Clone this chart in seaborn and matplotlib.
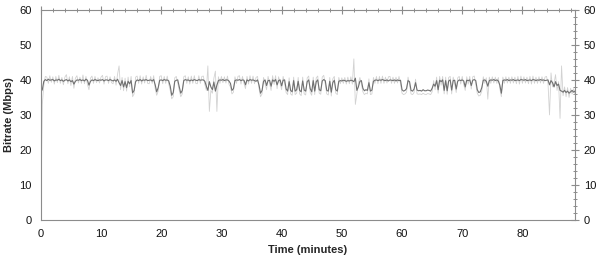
import numpy as np
import pandas as pd
import matplotlib
matplotlib.use("Agg")
import matplotlib.pyplot as plt
import seaborn as sns
from matplotlib.ticker import MultipleLocator

# Sample step of 0.25 minute, 4 per minute
step_minutes = 0.25

smoothed_mbps = [
    36.5, 37.2, 39.6, 40.1,  39.8, 40.2, 39.9, 40.0,  40.1, 39.7, 40.0, 39.9,  40.2, 39.8, 40.0, 39.6,
    39.9, 40.1, 39.7, 40.0,  39.5, 39.8, 38.8, 39.6,  40.0, 39.9, 40.1, 39.8,  40.0, 39.7, 40.2, 39.9,
    38.5, 39.6, 40.0, 39.8,  40.1, 39.9, 39.8, 40.0,  39.9, 40.1, 39.7, 40.0,  40.0, 39.8, 40.1, 39.9,
    39.7, 40.0, 39.6, 40.2,  39.2, 38.4, 39.8, 38.0,  39.5, 37.8, 39.6, 38.9,  39.8, 36.3, 37.0, 39.5,
    40.0, 39.8, 40.1, 39.7,  40.0, 39.9, 40.1, 39.8,  39.9, 40.0, 39.7, 40.1,  38.6, 36.6, 37.8, 39.9,
    40.0, 39.8, 40.1, 39.9,  40.0, 39.7, 38.2, 35.6,  36.4, 39.6, 39.9, 40.0,  38.0, 36.2, 37.0, 39.8,
    40.1, 39.9, 40.0, 39.7,  40.0, 39.8, 40.1, 39.9,  39.8, 40.1, 39.9, 40.0,  40.0, 39.6, 38.2, 37.0,
    39.5, 38.0, 37.2, 39.4,  36.8, 38.5, 39.8, 40.0,  39.9, 40.1, 39.8, 40.0,  40.0, 39.7, 39.0, 37.0,
    37.5, 39.8, 40.0, 39.9,  40.1, 39.8, 40.0, 39.9,  38.6, 40.0, 39.7, 40.1,  39.9, 40.0, 39.8, 39.6,
    40.0, 38.5, 36.2, 37.0,  39.6, 40.0, 38.4, 39.8,  39.9, 38.2, 40.0, 39.6,  40.1, 38.6, 39.8, 40.0,
    38.3, 39.9, 40.0, 37.4,  36.8, 39.5, 37.0, 36.6,  39.8, 36.8, 37.2, 39.6,  37.0, 36.6, 39.7, 37.1,
    36.8, 39.5, 40.0, 37.5,  36.6, 39.8, 36.8, 39.5,  40.0, 37.2, 36.9, 39.7,  40.1, 39.8, 37.0, 36.8,
    39.6, 36.5, 39.2, 39.9,  37.2, 36.8, 39.6, 39.8,  39.7, 39.9, 39.8, 39.6,  39.8, 39.7, 39.9, 39.8,
    39.5, 40.5, 37.0, 38.0,  39.6, 39.8, 37.6, 36.9,  37.2, 37.0, 39.2, 36.8,  37.1, 39.6, 39.9, 40.0,
    39.8, 40.0, 39.9, 40.1,  39.9, 39.8, 40.0, 39.7,  40.0, 39.9, 39.8, 40.0,  39.7, 40.0, 39.8, 39.9,
    37.2, 36.8, 37.0, 37.5,  39.8, 39.5, 37.0, 36.8,  37.4, 39.2, 37.1, 36.9,  37.0, 36.8, 37.2, 36.9,
    36.9, 37.1, 37.0, 36.8,  37.6, 38.8, 38.2, 39.8,  37.2, 39.9, 39.5, 40.0,  37.0, 39.8, 36.9, 39.7,
    40.0, 37.1, 39.8, 39.9,  37.4, 39.6, 40.0, 39.8,  40.0, 39.7, 38.0, 39.9,  39.8, 40.0, 38.4, 39.9,
    40.1, 39.8, 37.2, 36.4,  36.6, 37.8, 39.9, 40.0,  39.6, 38.2, 39.8, 40.0,  39.9, 40.1, 39.8, 40.0,
    39.7, 38.5, 36.2, 39.8,  40.0, 39.9, 40.1, 39.8,  40.0, 39.9, 40.1, 39.8,  39.9, 40.0, 39.8, 40.1,
    40.0, 39.9, 40.1, 39.8,  39.9, 40.0, 39.8, 40.1,  40.0, 39.8, 40.0, 39.9,  40.1, 39.9, 40.0, 39.8,
    39.9, 40.0, 38.6, 39.8,  39.2, 38.0, 39.5, 38.4,  38.8, 37.0, 36.8, 36.5,  37.0, 36.4, 36.8, 36.2,
    36.6, 37.0, 36.5, 36.8,
]

raw_mbps = [
    0.0, 33.0, 38.5, 41.0,  40.8, 39.0, 41.2, 39.3,  40.9, 38.8, 41.0, 39.2,  41.3, 39.0, 40.7, 38.6,
    40.8, 41.5, 38.9, 40.9,  38.4, 41.0, 37.6, 40.5,  41.2, 39.1, 40.8, 39.0,  41.4, 38.9, 41.0, 38.7,
    37.2, 40.5, 41.1, 39.0,  41.0, 39.2, 40.6, 39.1,  40.8, 41.3, 38.8, 40.9,  41.1, 39.0, 40.9, 39.2,
    38.9, 41.0, 38.5, 41.6,  44.0, 37.2, 40.7, 36.9,  40.5, 36.8, 40.8, 38.0,  41.0, 35.2, 36.0, 40.8,
    41.1, 39.0, 41.2, 38.8,  40.9, 39.1, 41.3, 39.0,  38.9, 41.0, 39.0, 41.2,  37.5, 35.6, 36.8, 41.0,
    41.2, 38.9, 41.0, 39.0,  41.1, 38.8, 37.0, 34.6,  35.2, 40.6, 41.0, 39.1,  37.0, 35.2, 36.0, 40.9,
    41.2, 39.0, 40.9, 38.8,  41.1, 39.0, 41.2, 39.0,  38.9, 41.2, 39.0, 41.0,  41.1, 38.7, 37.0, 44.0,
    31.0, 37.0, 36.2, 40.5,  42.5, 31.0, 40.9, 39.0,  41.0, 39.2, 40.9, 39.1,  41.1, 38.8, 38.0, 36.0,
    36.5, 40.9, 39.0, 41.0,  41.2, 38.8, 41.0, 39.0,  37.5, 41.0, 38.8, 41.2,  39.0, 41.1, 38.9, 40.7,
    41.0, 37.5, 35.2, 36.0,  40.7, 39.0, 37.2, 41.0,  39.0, 37.0, 41.2, 38.7,  41.2, 37.5, 40.9, 39.0,
    37.2, 41.0, 39.0, 36.4,  35.8, 40.6, 36.0, 35.6,  40.8, 35.8, 36.2, 40.7,  36.0, 35.5, 40.8, 36.0,
    35.7, 40.6, 41.1, 36.4,  35.6, 40.8, 35.8, 40.6,  41.1, 36.2, 35.9, 40.8,  41.3, 38.8, 36.0, 35.7,
    40.7, 35.4, 40.3, 41.0,  36.2, 35.8, 40.7, 38.9,  40.6, 39.0, 40.7, 38.8,  40.8, 38.9, 40.9, 38.8,
    46.0, 33.0, 36.0, 39.0,  40.7, 38.8, 36.6, 35.8,  36.2, 36.0, 40.3, 35.8,  36.0, 40.7, 39.0, 41.0,
    38.9, 41.0, 39.0, 41.1,  39.0, 40.8, 39.1, 40.9,  41.0, 39.0, 40.8, 39.0,  40.8, 39.1, 41.0, 38.9,
    36.2, 35.8, 36.0, 36.5,  40.8, 38.6, 36.0, 35.8,  36.4, 40.2, 36.0, 35.9,  36.0, 35.8, 36.2, 35.9,
    35.8, 36.1, 36.0, 35.8,  36.6, 39.8, 37.2, 40.8,  36.2, 41.0, 38.5, 41.0,  36.0, 40.8, 35.9, 40.7,
    41.0, 36.0, 40.8, 38.9,  36.4, 40.6, 41.0, 38.8,  41.0, 38.7, 37.0, 40.9,  38.8, 41.0, 37.4, 40.9,
    41.1, 38.8, 36.2, 35.4,  35.6, 36.8, 40.9, 39.0,  40.6, 34.5, 40.8, 39.0,  40.9, 39.1, 40.8, 39.0,
    40.7, 37.5, 35.2, 40.8,  39.0, 40.9, 39.1, 40.8,  39.0, 40.9, 39.1, 40.8,  38.9, 41.0, 38.8, 41.1,
    39.0, 40.9, 39.1, 40.8,  38.9, 41.0, 38.8, 41.1,  39.0, 40.8, 39.0, 40.9,  39.1, 40.9, 39.0, 40.8,
    41.0, 39.0, 30.0, 42.0,  38.0, 39.0, 41.5, 37.0,  39.5, 29.0, 44.0, 35.5,  38.0, 35.2, 37.8, 35.0,
    37.6, 36.0, 37.5, 35.8,
]

x_ticks = [0, 10, 20, 30, 40, 50, 60, 70, 80]
y_ticks = [0, 10, 20, 30, 40, 50, 60]

time_min = np.arange(len(smoothed_mbps)) * step_minutes
df = pd.DataFrame({"time": time_min, "smooth": smoothed_mbps, "raw": raw_mbps})

sns.set_style("white")
plt.rcParams["font.family"] = ["Liberation Sans", "DejaVu Sans"]

fig = plt.figure(figsize=(6.0, 2.6), dpi=100)
ax = fig.add_axes([0.068, 0.154, 0.89, 0.808])

sns.lineplot(data=df, x="time", y="raw", ax=ax, color="#d2d2d2", linewidth=0.6)
sns.lineplot(data=df, x="time", y="smooth", ax=ax, color="#707070", linewidth=0.8)

ax.set_xlim(0, 88.7)
ax.set_ylim(0, 60)
ax.set_xticks(x_ticks)
ax.set_yticks(y_ticks)
ax.xaxis.set_minor_locator(MultipleLocator(2))
ax.yaxis.set_minor_locator(MultipleLocator(2))

axis_col = "#8c8c8c"
for s in ax.spines.values():
    s.set_color(axis_col)
    s.set_linewidth(0.8)

ax.tick_params(axis="both", which="major", direction="inout", length=6, width=0.8,
               color=axis_col, labelsize=8, labelcolor="#111111",
               top=True, right=True, labelright=True, labeltop=False)
ax.tick_params(axis="both", which="minor", direction="inout", length=3, width=0.7,
               color=axis_col, top=True, right=True)

ax.set_xlabel("Time (minutes)", fontsize=8, fontweight="bold", labelpad=4)
ax.set_ylabel("Bitrate (Mbps)", fontsize=8, fontweight="bold", labelpad=4)

fig.savefig("out.png", dpi=100)
